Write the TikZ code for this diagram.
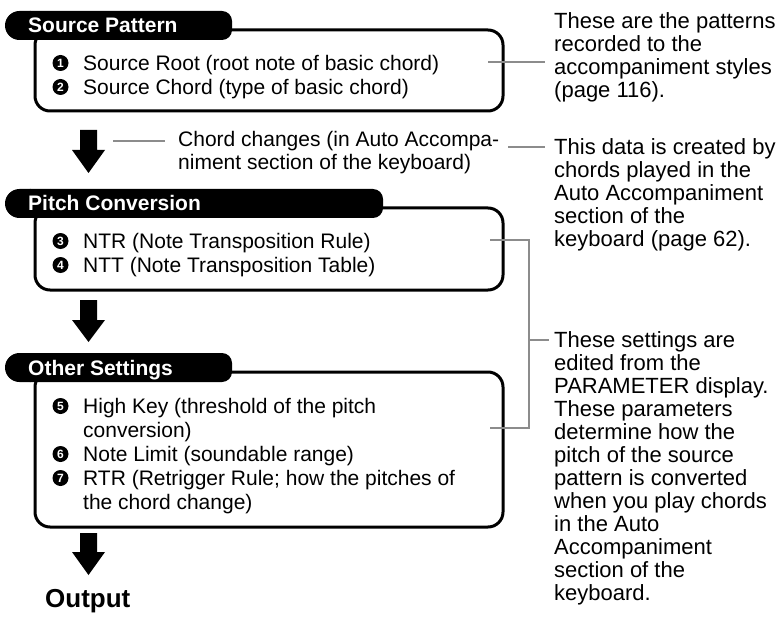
\documentclass[tikz,border=0pt]{standalone}
\usepackage{fontspec}
\setmainfont{Liberation Sans}
\definecolor{leadgray}{RGB}{140,140,140}
\begin{document}
\begin{tikzpicture}[x=1pt,y=-1pt,
  boxline/.style={line width=3pt, rounded corners=15pt},
  tabtext/.style={text=white, font=\bfseries\fontsize{21}{24}\selectfont, anchor=base west, inner sep=0},
  item/.style={font=\fontsize{21}{24}\selectfont, anchor=base west, inner sep=0},
  numdot/.style={circle, fill=black, inner sep=0, minimum size=16pt, text=white, font=\bfseries\fontsize{12}{12}\selectfont},
  note/.style={font=\fontsize{21}{23}\selectfont, anchor=base west, inner sep=0},
  sidenote/.style={font=\fontsize{22}{23}\selectfont, anchor=base west, inner sep=0},
  leader/.style={draw=leadgray, line width=2.5pt},
  blockarrow/.style={fill=black},
  outtext/.style={font=\bfseries\fontsize{26}{30}\selectfont, anchor=base west, inner sep=0}]
\useasboundingbox (0,0) rectangle (778,628);

% ---------- Box 1: Source Pattern ----------
\draw[boxline] (35,30) rectangle (503,111);
\fill[rounded corners=10pt] (20,11) rectangle (232,40);
\fill[rounded corners=14.5pt] (5,11) rectangle (45,40);
\node[tabtext] (t1) at (28,33) {Source Pattern};
\node[numdot] (n1) at (60.5,63) {1};
\node[item] (i1) at (83,70.5) {Source Root (root note of basic chord)};
\node[numdot] (n2) at (60.5,87) {2};
\node[item] (i2) at (83,94.5) {Source Chord (type of basic chord)};

% ---------- Box 2: Pitch Conversion ----------
\draw[boxline] (35,208) rectangle (503,290);
\fill[rounded corners=10pt] (20,189) rectangle (383,218);
\fill[rounded corners=14.5pt] (5,189) rectangle (45,218);
\node[tabtext] (t2) at (28,211) {Pitch Conversion};
\node[numdot] (n3) at (60.5,241) {3};
\node[item] (i3) at (83,248.5) {NTR (Note Transposition Rule)};
\node[numdot] (n4) at (60.5,265) {4};
\node[item] (i4) at (83,272.5) {NTT (Note Transposition Table)};

% ---------- Box 3: Other Settings ----------
\draw[boxline] (35,372) rectangle (503,527);
\fill[rounded corners=10pt] (20,353) rectangle (232,382);
\fill[rounded corners=14.5pt] (5,353) rectangle (45,382);
\node[tabtext] (t3) at (28,375) {Other Settings};
\node[numdot] (n5) at (60.5,406) {5};
\node[item] (i5) at (83,413.5) {High Key (threshold of the pitch};
\node[item] (i5b) at (83,437.5) {conversion)};
\node[numdot] (n6) at (60.5,454) {6};
\node[item] (i6) at (83,461.5) {Note Limit (soundable range)};
\node[numdot] (n7) at (60.5,478) {7};
\node[item] (i7) at (83,485.5) {RTR (Retrigger Rule; how the pitches of};
\node[item] (i7b) at (83,509.5) {the chord change)};

% ---------- block arrows ----------
\fill[blockarrow] (80,130) -- (97,130) -- (97,150) -- (105,150) -- (88.5,173) -- (72,150) -- (80,150) -- cycle;
\fill[blockarrow] (80,300) -- (97,300) -- (97,320) -- (105,320) -- (88.5,342) -- (72,320) -- (80,320) -- cycle;
\fill[blockarrow] (80,533) -- (97,533) -- (97,552) -- (105,552) -- (88.5,575) -- (72,552) -- (80,552) -- cycle;
\node[outtext] (out) at (45,607) {Output};

% ---------- chord changes ----------
\node[note] (cc1) at (178,147) {Chord changes (in Auto Accompa-};
\node[note] (cc2) at (178,170) {niment section of the keyboard)};
\coordinate (ccl) at (113,141);
\draw[leader] (ccl) -- (165,141);

% ---------- right notes ----------
\node[sidenote] (a1) at (554,28.5) {These are the patterns};
\node[sidenote] (a2) at (554,51.5) {recorded to the};
\node[sidenote] (a3) at (554,74.5) {accompaniment styles};
\node[sidenote] (a4) at (554,97.5) {(page 116).};

\node[sidenote] (b1) at (554,155) {This data is created by};
\node[sidenote] (b2) at (554,178) {chords played in the};
\node[sidenote] (b3) at (554,201) {Auto Accompaniment};
\node[sidenote] (b4) at (554,224) {section of the};
\node[sidenote] (b5) at (554,247) {keyboard (page 62).};

\node[sidenote] (c1) at (554,347) {These settings are};
\node[sidenote] (c2) at (554,370) {edited from the};
\node[sidenote] (c3) at (554,393) {PARAMETER display.};
\node[sidenote] (c4) at (554,416) {These parameters};
\node[sidenote] (c5) at (554,439) {determine how the};
\node[sidenote] (c6) at (554,462) {pitch of the source};
\node[sidenote] (c7) at (554,485) {pattern is converted};
\node[sidenote] (c8) at (554,508) {when you play chords};
\node[sidenote] (c9) at (554,531) {in the Auto};
\node[sidenote] (c10) at (554,554) {Accompaniment};
\node[sidenote] (c11) at (554,577) {section of the};
\node[sidenote] (c12) at (554,600) {keyboard.};

% ---------- leaders ----------
\coordinate (l1a) at (488,62);
\coordinate (l1b) at (545,62);
\draw[leader] (l1a) -- (l1b);
\coordinate (l2a) at (508,147);
\coordinate (l2b) at (545,147);
\draw[leader] (l2a) -- (l2b);
\coordinate (bt) at (490,240);
\coordinate (bb) at (490,428);
\draw[leader] (bt) -- (529,240) -- (529,428) -- (bb);
\coordinate (bk) at (549,340);
\draw[leader] (529,340) -- (bk);
\end{tikzpicture}
\end{document}
